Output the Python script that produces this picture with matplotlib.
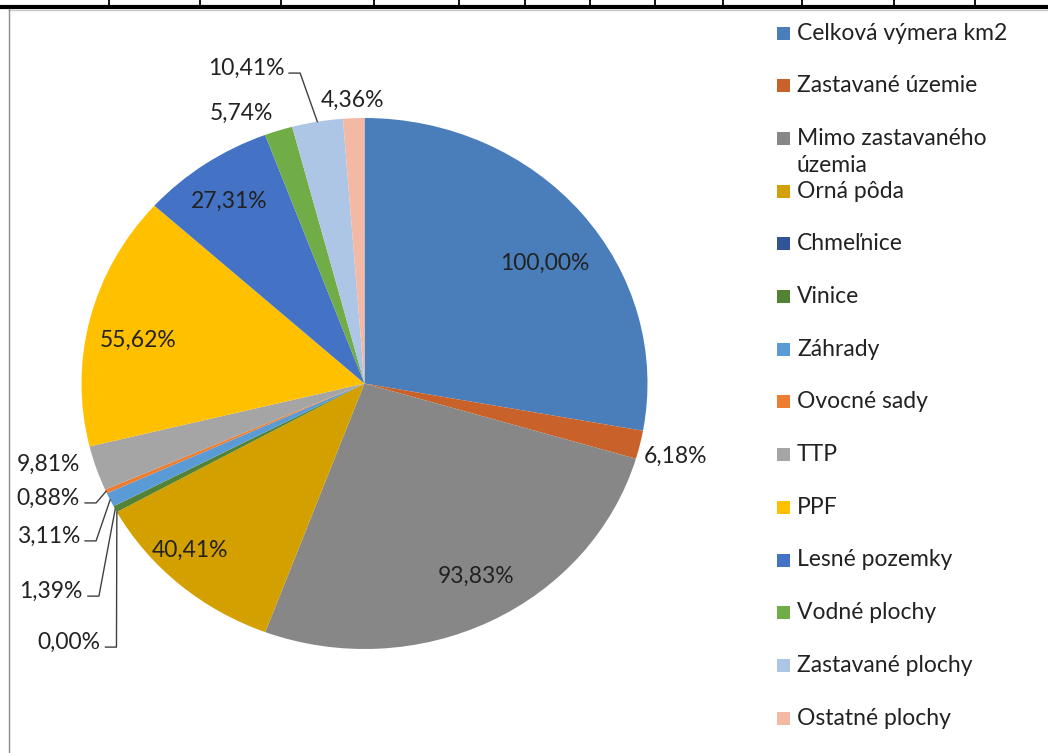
import matplotlib
matplotlib.use("Agg")
import matplotlib.pyplot as plt
import numpy as np
from matplotlib.lines import Line2D
from matplotlib.patches import Rectangle

plt.rcParams['font.family'] = ['Lato', 'DejaVu Sans']

# ---- data ----
categories = ["Celková výmera km2", "Zastavané územie", "Mimo zastavaného\núzemia",
              "Orná pôda", "Chmeľnice", "Vinice", "Záhrady", "Ovocné sady", "TTP",
              "PPF", "Lesné pozemky", "Vodné plochy", "Zastavané plochy", "Ostatné plochy"]
values = [100.00, 6.18, 93.83, 40.41, 0.00, 1.39, 3.11, 0.88, 9.81,
          55.62, 27.31, 5.74, 10.41, 4.36]

# ---- style ----
colors = ["#4A7EBB", "#C8612A", "#878787", "#D4A000", "#2F5597", "#548235",
          "#5B9BD5", "#ED7D31", "#A5A5A5", "#FFC000", "#4472C4", "#70AD47",
          "#ADC6E6", "#F4B9A5"]
# label anchor (data coords, pie radius = 1), alignment, leader flag
label_pos = [(0.638, 0.454, 'center', False),
             (1.100, -0.273, 'center', False),
             (0.394, -0.725, 'center', False),
             (-0.617, -0.627, 'center', False),
             (-0.933, -0.974, 'right', True),
             (-0.995, -0.782, 'right', True),
             (-1.005, -0.574, 'right', True),
             (-1.005, -0.431, 'right', True),
             (-1.005, -0.303, 'right', False),
             (-0.800, 0.164, 'center', False),
             (-0.479, 0.687, 'center', False),
             (-0.433, 1.019, 'center', False),
             (-0.284, 1.188, 'right', True),
             (-0.044, 1.065, 'center', False)]

W, H = 1048, 753
fig = plt.figure(figsize=(W / 100, H / 100), dpi=100)
fig.patch.set_facecolor('white')

# pie axes (slightly stretched horizontally as in the reference)
cx, cy, rx, ry = 364.5, 383.5, 283.0, 265.5
ax = fig.add_axes([(cx - rx) / W, (H - cy - ry) / H, 2 * rx / W, 2 * ry / H])
wedges, _ = ax.pie(values, colors=colors, startangle=90, counterclock=False,
                   radius=1.0, wedgeprops=dict(linewidth=0))
ax.set_aspect('auto')
ax.set_xlim(-1, 1)
ax.set_ylim(-1, 1)
ax.axis('off')

text_color = '#222222'
fs = 16.5
px_x = 1.0 / rx  # one pixel in data x
px_y = 1.0 / ry
for w, v, (lx, ly, ha, leader) in zip(wedges, values, label_pos):
    txt = f"{v:.2f}".replace('.', ',') + '%'
    ax.text(lx, ly, txt, ha=ha, va='center', fontsize=fs, color=text_color,
            clip_on=False)
    if leader:
        mid = np.deg2rad((w.theta1 + w.theta2) / 2)
        ex, ey = np.cos(mid), np.sin(mid)
        y0 = ly - 5 * px_y
        x0 = lx + 5 * px_x
        x1 = x0 + 11 * px_x
        ax.add_line(Line2D([x0, x1, ex], [y0, y0, ey], color='#404040',
                           linewidth=1.0, clip_on=False))

# legend (manual, Excel-like)
row0, step = 33, 52.7
for i, (lab, col) in enumerate(zip(categories, colors)):
    yc = row0 + i * step
    fig.patches.append(Rectangle((777 / W, (H - yc - 6.5) / H), 13 / W, 13 / H,
                                 transform=fig.transFigure, facecolor=col,
                                 edgecolor='none'))
    for k, line in enumerate(lab.split('\n')):
        fig.text(797 / W, (H - yc - k * 27) / H, line, ha='left', va='center',
                 fontsize=fs, color=text_color)

# sheet decorations: thick top rule with cell ticks, thin chart border
def fl(x0, y0, x1, y1, **kw):
    fig.add_artist(Line2D([x0 / W, x1 / W], [1 - y0 / H, 1 - y1 / H],
                          transform=fig.transFigure, **kw))

fl(0, 7, W, 7, color='black', linewidth=3.0, solid_capstyle='butt')
for tx in [109, 200, 281, 374, 459, 525, 590, 655, 723, 802, 894, 975]:
    fl(tx, 0, tx, 6, color='black', linewidth=1.3, solid_capstyle='butt')
fl(8.5, 9.5, W, 9.5, color='#C8C8C8', linewidth=1.0)
fl(8.5, 9, 8.5, H, color='#8C8C8C', linewidth=1.0)

fig.savefig('out.png', dpi=100, facecolor='white')
